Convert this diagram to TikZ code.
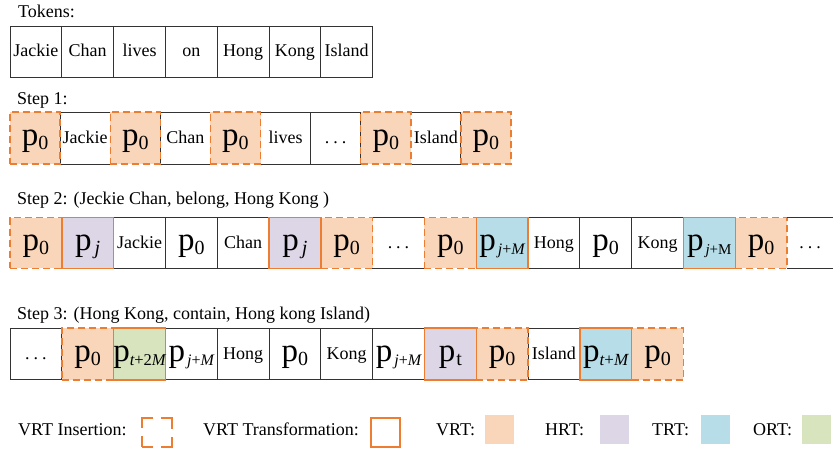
\documentclass[tikz,border=0pt]{standalone}
\usepackage{fontspec}
\setmainfont{Liberation Serif}
\definecolor{vrtline}{HTML}{ED7D31}
\definecolor{vrt}{HTML}{F9D5BA}
\definecolor{hrt}{HTML}{DDD6E6}
\definecolor{trt}{HTML}{B7DEE8}
\definecolor{ort}{HTML}{D7E4BD}
\definecolor{cellline}{HTML}{333333}
\newcommand{\bigp}{{\fontsize{33}{33}\selectfont p}}
\newcommand{\ppz}{\bigp\raisebox{-4pt}{\fontsize{20}{20}\selectfont 0}}
\newcommand{\ppj}{\bigp\hspace{3pt}\raisebox{-4pt}{\fontsize{20}{20}\selectfont\itshape j}}
\newcommand{\ppjM}{\bigp\hspace{2pt}\raisebox{-4pt}{\fontsize{16}{16}\selectfont\itshape j\upshape +\itshape M}}
\newcommand{\ppjMup}{\bigp\hspace{2pt}\raisebox{-4pt}{\fontsize{15}{15}\selectfont\itshape j\upshape +M}}
\newcommand{\pptwoM}{\bigp\raisebox{-4pt}{\fontsize{16.5}{16.5}\selectfont\itshape t\upshape +2\itshape M}}
\newcommand{\ppt}{\bigp\hspace{1pt}\raisebox{-4pt}{\fontsize{20}{20}\selectfont t}}
\newcommand{\pptM}{\bigp\raisebox{-4pt}{\fontsize{17}{17}\selectfont\itshape t\upshape +\itshape M}}
\newcommand{\ddd}{.\hspace{4pt}.\hspace{4pt}.}
\begin{document}
\begin{tikzpicture}[x=1pt,y=-1pt,font=\fontsize{18}{20}\selectfont,
  cellbase/.style={rectangle, inner sep=0pt, outer sep=0pt, minimum width=51.8pt, minimum height=51pt, text height=13pt, text depth=3pt},
  plain/.style={cellbase, draw=cellline, line width=0.9pt},
  ins/.style={cellbase, fill=vrt, draw=vrtline, line width=1.4pt, dash pattern=on 7pt off 4pt,
    preaction={draw=white, line width=1.4pt}},
  trans/.style={cellbase, draw=vrtline, line width=1.4pt},
  ptext/.style={text height=16pt, text depth=2pt},
  rowA/.style={minimum height=51pt},
  rowB/.style={minimum height=52pt, minimum width=50.1pt},
  rowC/.style={minimum height=50.6pt},
  rowD/.style={minimum height=51.7pt},
  label/.style={anchor=base west, inner sep=0pt},
  keybox/.style={rectangle, inner sep=0pt, minimum width=29pt, minimum height=29pt}]
\useasboundingbox (0,0) rectangle (833,448);

% Tokens
\node[label] (lTok) at (18,17.5) {Tokens:};
\node[plain,rowA] (t1) at (35.9,51.5) {Jackie};
\node[plain,rowA] (t2) at (87.7,51.5) {Chan};
\node[plain,rowA] (t3) at (139.5,51.5) {lives};
\node[plain,rowA] (t4) at (191.3,51.5) {on};
\node[plain,rowA] (t5) at (243.1,51.5) {Hong};
\node[plain,rowA] (t6) at (294.9,51.5) {Kong};
\node[plain,rowA] (t7) at (346.7,51.5) {Island};

% Step 1
\node[label] (lS1) at (17,104) {Step 1:};
\node[plain,rowB] (a2) at (85.15,138) {Jackie};
\node[plain,rowB] (a4) at (185.35,138) {Chan};
\node[plain,rowB] (a6) at (285.55,138) {lives};
\node[plain,rowB] (a7) at (335.65,138) {\ddd};
\node[plain,rowB] (a9) at (435.85,138) {Island};
\node[ins,rowB,ptext] (a1) at (35.05,138) {\ppz};
\node[ins,rowB,ptext] (a3) at (135.25,138) {\ppz};
\node[ins,rowB,ptext] (a5) at (235.45,138) {\ppz};
\node[ins,rowB,ptext] (a8) at (385.75,138) {\ppz};
\node[ins,rowB,ptext] (a10) at (485.95,138) {\ppz};

% Step 2
\node[label] (lS2) at (17,204) {Step 2: (Jeckie Chan, belong, Hong Kong )};
\node[plain,rowC] (b3) at (139.5,243) {Jackie};
\node[plain,rowC,ptext] (b4) at (191.3,243) {\ppz};
\node[plain,rowC] (b5) at (243.1,243) {Chan};
\node[plain,rowC] (b8) at (398.5,243) {\ddd};
\node[plain,rowC] (b11) at (553.9,243) {Hong};
\node[plain,rowC,ptext] (b12) at (605.7,243) {\ppz};
\node[plain,rowC] (b13) at (657.5,243) {Kong};
\node[cellbase,rowC,minimum width=46pt] (b16) at (810,243) {\ddd};
\node[ins,rowC,ptext] (b1) at (35.9,243) {\ppz};
\node[ins,rowC,ptext] (b7) at (346.7,243) {\ppz};
\node[ins,rowC,ptext] (b9) at (450.3,243) {\ppz};
\node[ins,rowC,ptext] (b15) at (761.1,243) {\ppz};
\node[trans,rowC,ptext,fill=hrt] (b2) at (87.7,243) {\ppj};
\node[trans,rowC,ptext,fill=hrt] (b6) at (294.9,243) {\ppj};
\node[trans,rowC,ptext,fill=trt] (b10) at (502.1,243) {\ppjM};
\node[trans,rowC,ptext,fill=trt] (b14) at (709.3,243) {\ppjMup};
\draw[cellline, line width=0.9pt] (b15.north east) -- (b16.north east);
\draw[cellline, line width=0.9pt] (b15.south east) -- (b16.south east);

% Step 3
\node[label] (lS3) at (17,319) {Step 3: (Hong Kong, contain, Hong kong Island)};
\node[plain,rowD] (c1) at (35.9,354) {\ddd};
\node[plain,rowD,ptext] (c4) at (191.3,354) {\ppjM};
\node[plain,rowD] (c5) at (243.1,354) {Hong};
\node[plain,rowD,ptext] (c6) at (294.9,354) {\ppz};
\node[plain,rowD] (c7) at (346.7,354) {Kong};
\node[plain,rowD,ptext] (c8) at (398.5,354) {\ppjM};
\node[plain,rowD] (c11) at (553.9,354) {Island};
\node[ins,rowD,ptext] (c2) at (87.7,354) {\ppz};
\node[ins,rowD,ptext] (c10) at (502.1,354) {\ppz};
\node[ins,rowD,ptext] (c13) at (657.5,354) {\ppz};
\node[trans,rowD,ptext,fill=ort] (c3) at (139.5,354) {\pptwoM};
\node[trans,rowD,ptext,fill=hrt] (c9) at (450.3,354) {\ppt};
\node[trans,rowD,ptext,fill=trt] (c12) at (605.7,354) {\pptM};

% Legend
\node[label] (k1t) at (18,435) {VRT Insertion:};
\node[keybox, minimum width=30pt, draw=vrtline, line width=1.4pt, dash pattern=on 21.5pt off 8pt, dash phase=10.75pt] (k1) at (157,432.5) {};
\node[label] (k2t) at (203,435) {VRT Transformation:};
\node[keybox, draw=vrtline, line width=1.4pt] (k2) at (385.5,432.5) {};
\node[label] (k3t) at (436,435) {VRT:};
\node[keybox, fill=vrt] (k3) at (499.5,429.5) {};
\node[label] (k4t) at (545,435) {HRT:};
\node[keybox, fill=hrt] (k4) at (614.5,429.5) {};
\node[label] (k5t) at (652,435) {TRT:};
\node[keybox, fill=trt] (k5) at (715.5,429.5) {};
\node[label] (k6t) at (753,435) {ORT:};
\node[keybox, fill=ort] (k6) at (816.5,429.5) {};
\end{tikzpicture}
\end{document}
